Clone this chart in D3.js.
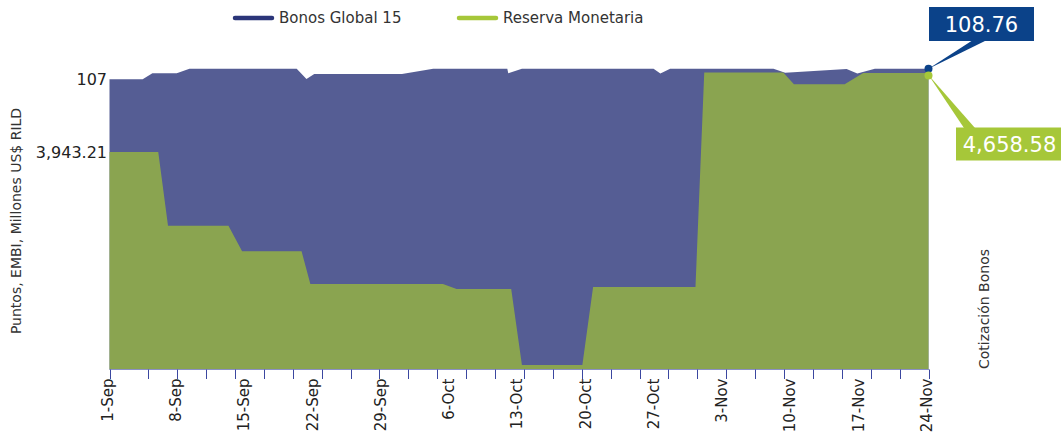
<!DOCTYPE html>
<html>
<head>
<meta charset="utf-8">
<script src="https://cdn.jsdelivr.net/npm/d3@7"></script>
<style>
  html, body { margin: 0; padding: 0; background: #fff; }
  svg { display: block; font-family: "DejaVu Sans", Verdana, sans-serif; }
</style>
</head>
<body>
<svg id="chart" width="1061" height="439"></svg>
<script>
// ---- data (days since 1-Sep) ----
const bonosDays   = [0, 3.4, 4.4, 6.9, 8.2, 19.2, 20.2, 21.0, 30.0, 33.2, 40.8, 40.9, 42.3, 55.8, 56.5, 57.5, 68.1, 69.3, 75.6, 76.7, 78.5, 84];
const bonosValues = [107, 107, 108.0, 108.0, 108.76, 108.76, 107.05, 107.88, 107.88, 108.76, 108.76, 108.0, 108.76, 108.76, 107.95, 108.76, 108.76, 108.1, 108.71, 107.95, 108.76, 108.76];

const reservaDays   = [0, 5.0, 6.0, 12.2, 13.6, 19.7, 20.6, 34.2, 35.6, 41.2, 42.3, 48.5, 49.6, 60.1, 61.0, 69.1, 70.2, 75.4, 77.3, 84];
const reservaValues = [3943.21, 3943.21, 3275.8, 3275.8, 3044.0, 3044.0, 2747.9, 2747.9, 2702.7, 2702.7, 2014.5, 2014.5, 2720.8, 2720.8, 4662.0, 4662.0, 4556.2, 4556.2, 4658.58, 4658.58];

const xLabelDays = [0, 7, 14, 21, 28, 35, 42, 49, 56, 63, 70, 77, 84];
const xLabels    = ["1-Sep", "8-Sep", "15-Sep", "22-Sep", "29-Sep", "6-Oct", "13-Oct", "20-Oct", "27-Oct", "3-Nov", "10-Nov", "17-Nov", "24-Nov"];

const seriesNames = ["Bonos Global 15", "Reserva Monetaria"];
const bonosTickValues = [107];
const reservaTickValues = [3943.21];

// ---- layout ----
const svg = d3.select("#chart");
const left = 109.5, right = 928.5, bottom = 369.5;

const x = d3.scaleLinear().domain([0, 84]).range([left, right]);
const yB = d3.scaleLinear().domain([107, 108.76]).range([79.3, 68.7]);
const yR = d3.scaleLinear().domain([3943.21, 4658.58]).range([152, 73]);

const blueLine = "#2b3579", blueArea = "#2b3579";
const greenLine = "#a6c739", greenArea = "#97b73f";

const bonos = bonosDays.map((d, i) => ({ d, v: bonosValues[i] }));
const reserva = reservaDays.map((d, i) => ({ d, v: reservaValues[i] }));

// areas
svg.append("path").datum(bonos)
  .attr("d", d3.area().x(p => x(p.d)).y0(bottom).y1(p => yB(p.v)))
  .attr("fill", blueArea).attr("fill-opacity", 0.8);

svg.append("path").datum(reserva)
  .attr("d", d3.area().x(p => x(p.d)).y0(bottom).y1(p => yR(p.v)))
  .attr("fill", greenArea).attr("fill-opacity", 0.8);

// x axis
svg.append("line").attr("x1", left).attr("x2", right + 0.5)
  .attr("y1", bottom).attr("y2", bottom)
  .attr("stroke", "#8a90c4").attr("stroke-width", 1);

const minorTicks = [0].concat(d3.range(28).map(i => 3.98 + i * (84 - 3.98) / 27));
svg.append("g").selectAll("line").data(minorTicks).join("line")
  .attr("x1", d => Math.round(x(d)) + 0.5).attr("x2", d => Math.round(x(d)) + 0.5)
  .attr("y1", bottom).attr("y2", bottom + 9.5)
  .attr("stroke", "#3b47a0").attr("stroke-width", 1);

svg.append("g").selectAll("text").data(xLabelDays).join("text")
  .attr("transform", d => `translate(${x(d) - 2},${bottom + 9}) rotate(-90)`)
  .attr("text-anchor", "end").attr("dy", "0.35em")
  .attr("font-size", 15).attr("fill", "#222")
  .text((d, i) => xLabels[i]);

// left axis labels (one per series)
const gB = svg.append("g").attr("transform", `translate(${left},0)`)
  .call(d3.axisLeft(yB).tickValues(bonosTickValues).tickSize(0).tickPadding(2.5).tickFormat(d3.format("d")));
const gR = svg.append("g").attr("transform", `translate(${left},0)`)
  .call(d3.axisLeft(yR).tickValues(reservaTickValues).tickSize(0).tickPadding(2.5).tickFormat(d3.format(",.2f")));
[gB, gR].forEach(g => {
  g.select(".domain").remove();
  g.selectAll("text").attr("font-size", 16).attr("fill", "#222").attr("font-family", "DejaVu Sans, sans-serif");
});

// axis titles
svg.append("text").attr("transform", "translate(21,221) rotate(-90)")
  .attr("text-anchor", "middle").attr("font-size", 14).attr("fill", "#333")
  .text("Puntos, EMBI, Millones US$ RILD");
svg.append("text").attr("transform", "translate(989,309) rotate(-90)")
  .attr("text-anchor", "middle").attr("font-size", 14).attr("fill", "#333")
  .text("Cotización Bonos");

// legend
const legendX = [235, 459];
const legendColors = [blueLine, greenLine];
seriesNames.forEach((name, i) => {
  svg.append("line").attr("x1", legendX[i]).attr("x2", legendX[i] + 37)
    .attr("y1", 18).attr("y2", 18)
    .attr("stroke", legendColors[i]).attr("stroke-width", 4.5).attr("stroke-linecap", "round");
  svg.append("text").attr("x", legendX[i] + 44).attr("y", 18).attr("dy", "0.35em")
    .attr("font-size", 15).attr("fill", "#333").text(name);
});

// end-value callouts
const lastB = bonos[bonos.length - 1], lastR = reserva[reserva.length - 1];
const bx = x(lastB.d), by = yB(lastB.v);
const rx = x(lastR.d), ry = yR(lastR.v);
const calloutBlue = "#0b4289", calloutGreen = "#a6c739";

svg.append("path").attr("d", `M${bx},${by} L973,40 L987,40 Z`).attr("fill", calloutBlue);
svg.append("rect").attr("x", 929).attr("y", 7).attr("width", 105).attr("height", 34).attr("fill", calloutBlue);
svg.append("text").attr("x", 981.5).attr("y", 24).attr("dy", "0.36em").attr("text-anchor", "middle")
  .attr("font-size", 21).attr("fill", "#fff").text(d3.format(".2f")(lastB.v));
svg.append("circle").attr("cx", bx).attr("cy", by).attr("r", 4).attr("fill", calloutBlue);

svg.append("path").attr("d", `M${rx},${ry + 2} L964,128 L975,128 Z`).attr("fill", calloutGreen);
svg.append("rect").attr("x", 956).attr("y", 127.5).attr("width", 106).attr("height", 33).attr("fill", calloutGreen);
svg.append("text").attr("x", 1009.5).attr("y", 144).attr("dy", "0.36em").attr("text-anchor", "middle")
  .attr("font-size", 21).attr("fill", "#fff").text(d3.format(",.2f")(lastR.v));
svg.append("circle").attr("cx", rx).attr("cy", ry + 2.5).attr("r", 4).attr("fill", calloutGreen);
</script>
</body>
</html>
